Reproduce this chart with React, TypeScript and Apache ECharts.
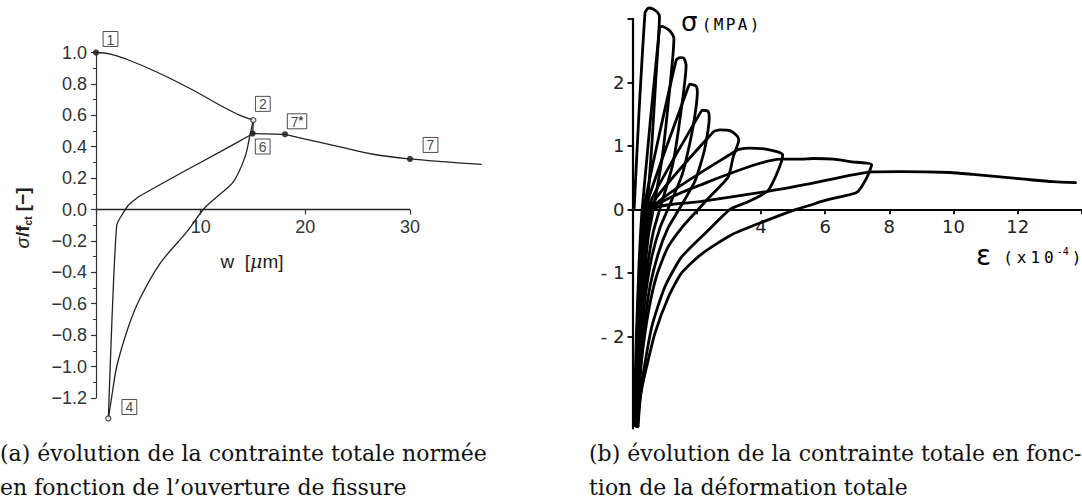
import React, { useEffect, useRef } from "react";
import * as echarts from "echarts";

// ---------- (a) normalised stress vs crack opening ----------
// points: [w (µm), sigma/fct]
const softeningCurve = [[0, 1.0], [1.4, 0.99], [2.93, 0.957], [5.8, 0.876], [8.98, 0.771], [12.16, 0.653], [13.76, 0.6], [15.03, 0.569]];
const dropTo6 = [[15.03, 0.569], [14.97, 0.484]];
const plateau = [[14.97, 0.484], [18.06, 0.479]];
const tailCurve = [[18.06, 0.479], [20.76, 0.437], [23.95, 0.389], [26.49, 0.352], [30.0, 0.322], [33.5, 0.303], [36.85, 0.287]];
const reloadA = [[1.18, -1.331], [1.98, -0.1], [3.09, 0.027], [4.04, 0.08], [8.03, 0.229], [11.85, 0.367], [14.71, 0.473], [14.97, 0.484]];
const reloadB = [[1.18, -1.331], [1.5, -1.194], [1.98, -1.0], [3.09, -0.748], [4.2, -0.567], [6.11, -0.344], [8.67, -0.143], [10.25, 0.0], [11.53, 0.08], [13.12, 0.176], [14.24, 0.335], [14.7, 0.47], [15.03, 0.569]];
const wAxisLine = [[0, 0], [30, 0]];
const keyNames = ["1", "2", "6", "7*", "7", "4"];
const keyW = [0, 15.03, 14.97, 18.06, 30, 1.18];
const keyS = [1.0, 0.569, 0.484, 0.479, 0.322, -1.331];
const wTicks = [0, 10, 20, 30];
const wTickLabels = [10, 20, 30];

// ---------- (b) cyclic stress-strain (eps x1e-4, sigma MPa) ----------
const loop1 = [[0.05, 0], [0.2, 1.5], [0.39, 3.09], [0.45, 3.15], [0.52, 3.17], [0.65, 3.15], [0.78, 3.1], [0.84, 3.04], [0.72, 2.0], [0.6, 1.0], [0.45, 0], [0.35, -0.5], [0.25, -1.2], [0.18, -2.0], [0.1, -2.8], [0.05, -3.35]];
const loop2 = [[0.05, -3.35], [0.12, -2.0], [0.2, -0.9], [0.3, 0], [0.84, 2.85], [0.91, 2.88], [1.12, 2.83], [1.25, 2.75], [1.29, 2.69], [1.12, 1.7], [0.92, 0.8], [0.65, 0], [0.5, -0.4], [0.38, -1.0], [0.28, -1.7], [0.2, -2.4], [0.1, -3.1], [0.06, -3.4]];
const loop3 = [[0.06, -3.4], [0.14, -2.0], [0.22, -0.9], [0.35, 0], [1.36, 2.35], [1.48, 2.39], [1.6, 2.38], [1.67, 2.27], [1.5, 1.5], [1.25, 0.7], [0.85, 0], [0.65, -0.35], [0.48, -0.85], [0.35, -1.45], [0.25, -2.1], [0.15, -2.8], [0.08, -3.4]];
const loop4 = [[0.08, -3.4], [0.16, -2.0], [0.26, -0.9], [0.4, 0], [1.74, 1.93], [1.79, 1.97], [1.98, 1.94], [2.02, 1.85], [1.85, 1.2], [1.55, 0.55], [1.1, 0], [0.85, -0.3], [0.6, -0.75], [0.42, -1.3], [0.3, -1.9], [0.2, -2.6], [0.1, -3.4]];
const loop5 = [[0.1, -3.4], [0.18, -2.0], [0.28, -0.9], [0.45, 0], [2.1, 1.51], [2.19, 1.56], [2.36, 1.54], [2.39, 1.43], [2.25, 0.95], [1.95, 0.45], [1.45, 0], [1.1, -0.3], [0.8, -0.7], [0.55, -1.2], [0.38, -1.8], [0.25, -2.5], [0.12, -3.4]];
const loop6 = [[0.12, -3.4], [0.2, -2.0], [0.3, -0.9], [0.5, 0], [2.52, 1.22], [2.72, 1.25], [3.04, 1.24], [3.25, 1.16], [3.31, 1.09], [3.14, 0.83], [2.98, 0.51], [2.41, 0.2], [2.05, 0], [1.6, -0.25], [1.1, -0.6], [0.75, -1.05], [0.5, -1.6], [0.3, -2.3], [0.18, -3.0], [0.13, -3.42]];
const loop7 = [[0.13, -3.42], [0.22, -2.0], [0.32, -0.9], [0.55, 0], [3.25, 0.93], [3.5, 0.96], [3.66, 0.965], [4.19, 0.945], [4.55, 0.9], [4.68, 0.855], [4.23, 0.3], [3.6, 0.12], [3.04, 0], [2.36, -0.33], [1.53, -0.75], [1.01, -1.22], [0.6, -1.85], [0.29, -2.74], [0.17, -3.42]];
const loop8 = [[0.17, -3.42], [0.25, -2.0], [0.35, -0.9], [0.6, 0], [2.1, 0.38], [4.6, 0.79], [5.22, 0.79], [5.64, 0.8], [6.26, 0.79], [6.78, 0.75], [7.45, 0.7], [7.3, 0.5], [7.0, 0.27], [6.5, 0.2], [6.0, 0.14], [5.5, 0.06], [5.1, 0], [4.1, -0.19], [3.09, -0.4], [2.16, -0.7], [1.53, -1.0], [1.12, -1.38], [0.7, -1.95], [0.44, -2.48], [0.28, -2.85], [0.18, -3.2], [0.15, -3.42]];
const loop9 = [[0.15, -3.42], [0.25, -2.0], [0.38, -0.9], [0.65, 0], [2.1, 0.12], [4.18, 0.28], [5.5, 0.4], [7.45, 0.59], [8.33, 0.595], [9.9, 0.58], [10.6, 0.55], [11.45, 0.51], [12.3, 0.47], [13.1, 0.435], [13.8, 0.42]];
const loops = [loop1, loop2, loop3, loop4, loop5, loop6, loop7, loop8, loop9];
const epsTickLabels = [4, 6, 8, 10, 12];
const sigmaTicks = [-2, -1, 0, 1, 2, 3];
const sigmaTickLabels = [-2, -1, 0, 1, 2];

const SANS_A = "'Liberation Sans', Arial, sans-serif";
const SANS_B = "'DejaVu Sans', sans-serif";
const MONO = "'DejaVu Sans Mono', monospace";
const SERIF = "'DejaVu Serif', serif";

// layout of the two panels (pixels)
const A_XMAX = 37;
const A_PX_PER_UNIT = 10.467;
const GA = { left: 96, top: 52.5, width: A_XMAX * A_PX_PER_UNIT, height: 345.4 };
const GB = { left: 632.5, top: 18.8, width: 449.4, height: 409.6 };
const A_YMIN = -1.2, A_YMAX = 1.0;
const B_YMIN = -3.45, B_YMAX = 3;
const zeroOffsetA = -(GA.height * (0 - A_YMIN) / (A_YMAX - A_YMIN));
const zeroOffsetB = -(GB.height * (0 - B_YMIN) / (B_YMAX - B_YMIN));

const labelOffsets: Record<string, number[]> = {
  "1": [14.5, -13.5],
  "2": [9.5, -16.3],
  "6": [10, 13],
  "7*": [12, -13],
  "7": [20.5, -14],
  "4": [21, -11.5],
};
const openMarker: Record<string, boolean> = { "2": true, "4": true };

function buildOption() {
  const thinLine = { color: "#222", width: 1.3 };
  const leftLine = (data: number[][], smooth: number | boolean, lw = 1.3) => ({
    type: "line",
    xAxisIndex: 0,
    yAxisIndex: 0,
    data,
    smooth,
    showSymbol: false,
    clip: false,
    lineStyle: { ...thinLine, width: lw },
    silent: true,
  });

  const rightSeries = loops.map((d) => ({
    type: "line",
    xAxisIndex: 1,
    yAxisIndex: 1,
    data: d,
    smooth: 0.2,
    showSymbol: false,
    clip: false,
    silent: true,
    lineStyle: { color: "#000", width: 2.8, cap: "round", join: "round" },
  }));

  const keyData = keyNames.map((n, i) => ({
    name: n,
    value: [keyW[i], keyS[i]],
    itemStyle: {
      color: openMarker[n] ? "#fff" : "#222",
      borderColor: "#222",
      borderWidth: 1.2,
    },
    label: { offset: labelOffsets[n] },
  }));

  return {
    animation: false,
    backgroundColor: "#fff",
    grid: [
      { ...GA, containLabel: false, outerBoundsMode: "none" },
      { ...GB, containLabel: false, outerBoundsMode: "none" },
    ],
    xAxis: [
      {
        type: "value",
        gridIndex: 0,
        position: "bottom",
        offset: zeroOffsetA,
        min: 0,
        max: A_XMAX,
        interval: 10,
        axisLine: { show: false, onZero: false },
        axisTick: { show: true, length: 5, customValues: wTicks, lineStyle: { color: "#333", width: 1.2 } },
        axisLabel: {
          show: true,
          margin: 8,
          fontFamily: SANS_A,
          fontSize: 18,
          color: "#333",
          customValues: wTickLabels,
          formatter: (v: number) => (wTickLabels.indexOf(v) >= 0 ? String(v) : ""),
        },
        splitLine: { show: false },
      },
      {
        type: "value",
        gridIndex: 1,
        position: "bottom",
        offset: zeroOffsetB,
        min: 0,
        max: 14,
        interval: 2,
        axisLine: { show: true, onZero: false, lineStyle: { color: "#000", width: 2.2 } },
        axisTick: { show: true, length: 5, lineStyle: { color: "#000", width: 1.8 } },
        axisLabel: {
          show: true,
          margin: 8,
          fontFamily: SANS_B,
          fontSize: 18,
          color: "#222",
          formatter: (v: number) => (epsTickLabels.indexOf(v) >= 0 ? String(v) : ""),
        },
        splitLine: { show: false },
      },
    ],
    yAxis: [
      {
        type: "value",
        gridIndex: 0,
        min: A_YMIN,
        max: A_YMAX,
        interval: 0.2,
        axisLine: { show: true, onZero: false, lineStyle: { color: "#333", width: 1.2 } },
        axisTick: { show: true, length: 5, lineStyle: { color: "#333", width: 1.2 } },
        minorTick: { show: true, splitNumber: 2, length: 3, lineStyle: { color: "#333", width: 1 } },
        axisLabel: {
          show: true,
          margin: 9,
          fontFamily: SANS_A,
          fontSize: 18,
          color: "#333",
          formatter: (v: number) => {
            const s = (Math.round(v * 10) / 10).toFixed(1);
            return s === "-0.0" ? "0.0" : s.replace("-", "\u2212");
          },
        },
        splitLine: { show: false },
      },
      {
        type: "value",
        gridIndex: 1,
        min: B_YMIN,
        max: B_YMAX,
        axisLine: { show: true, onZero: false, lineStyle: { color: "#000", width: 2.2 } },
        axisTick: { show: true, length: 5, customValues: sigmaTicks, lineStyle: { color: "#000", width: 1.8 } },
        axisLabel: {
          show: true,
          margin: 8,
          fontFamily: SANS_B,
          fontSize: 18,
          color: "#222",
          customValues: sigmaTickLabels,
          formatter: (v: number) => {
            if (sigmaTickLabels.indexOf(v) < 0) return "";
            return v < 0 ? "- " + String(-v) : String(v);
          },
        },
        splitLine: { show: false },
      },
    ],
    series: [
      leftLine(wAxisLine, false, 1.3),
      leftLine(softeningCurve, 0.4),
      leftLine(dropTo6, false),
      leftLine(plateau, false),
      leftLine(tailCurve, 0.4),
      leftLine(reloadA, 0.15),
      leftLine(reloadB, 0.3),
      {
        type: "scatter",
        xAxisIndex: 0,
        yAxisIndex: 0,
        clip: false,
        symbol: "circle",
        symbolSize: 5,
        silent: true,
        data: keyData,
        z: 5,
        label: {
          show: true,
          position: "inside",
          formatter: (p: any) => (p.name === "7*" ? "7{s|*}" : p.name),
          fontFamily: SANS_A,
          fontSize: 14,
          lineHeight: 14,
          color: "#111",
          textBorderWidth: 0,
          borderColor: "#222",
          borderWidth: 1,
          padding: [1, 3.5, 0, 3.5],
          rich: { s: { fontSize: 12, fontWeight: "bold", verticalAlign: "top", lineHeight: 14, color: "#111", fontFamily: SANS_A } },
        },
      },
      ...rightSeries,
    ],
    graphic: [
      {
        type: "text",
        x: 22,
        y: 218,
        rotation: Math.PI / 2,
        style: {
          text: "{i|\u03c3}{n|/f}{sub|ct}{n| [\u2212]}",
          align: "center",
          verticalAlign: "middle",
          fill: "#222",
          rich: {
            i: { fontFamily: SANS_A, fontSize: 19, fontStyle: "italic", fill: "#222", lineHeight: 22 },
            n: { fontFamily: SANS_A, fontSize: 19, fontWeight: "bold", fill: "#222", lineHeight: 22 },
            sub: { fontFamily: SANS_A, fontSize: 10, fontWeight: "bold", fill: "#222", lineHeight: 22, verticalAlign: "bottom" },
          },
        },
      },
      {
        type: "text",
        x: 252,
        y: 261,
        style: {
          text: "{n|w  [}{i|\u03bc}{n|m]}",
          align: "center",
          verticalAlign: "middle",
          rich: {
            n: { fontFamily: SANS_A, fontSize: 19, fill: "#222" },
            i: { fontFamily: SERIF, fontSize: 19, fontStyle: "italic", fill: "#222" },
          },
        },
      },
      {
        type: "text",
        x: 681,
        y: 22,
        style: {
          text: "{b|\u03c3}{s|(}{s|M}{s|P}{s|A}{s|)}",
          align: "left",
          verticalAlign: "middle",
          rich: {
            b: { fontFamily: SANS_B, fontSize: 26, fill: "#000", padding: [0, 3, 0, 0] },
            s: { fontFamily: MONO, fontSize: 16, fill: "#000", padding: [4, 1.2, 0, 1.2] },
          },
        },
      },
      {
        type: "text",
        x: 976,
        y: 255,
        style: {
          text: "{b|\u025b}{s|(}{s|x}{s|1}{s|0}{p|-4}{s|)}",
          align: "left",
          verticalAlign: "middle",
          rich: {
            b: { fontFamily: SANS_B, fontSize: 28, fill: "#000", padding: [0, 10, 0, 0] },
            s: { fontFamily: MONO, fontSize: 16, fill: "#000", padding: [4, 2, 0, 2] },
            p: { fontFamily: MONO, fontSize: 10, fill: "#000", padding: [0, 1, 7, 1] },
          },
        },
      },
      {
        type: "text",
        x: 0,
        y: 453,
        style: { text: "(a) \u00e9volution de la contrainte totale norm\u00e9e", font: `22px ${SERIF}`, fill: "#111", verticalAlign: "middle" },
      },
      {
        type: "text",
        x: 0,
        y: 487,
        style: { text: "en fonction de l\u2019ouverture de fissure", font: `22px ${SERIF}`, fill: "#111", verticalAlign: "middle" },
      },
      {
        type: "text",
        x: 589,
        y: 453,
        style: { text: "(b) \u00e9volution de la contrainte totale en fonc-", font: `22px ${SERIF}`, fill: "#111", verticalAlign: "middle" },
      },
      {
        type: "text",
        x: 589,
        y: 487,
        style: { text: "tion de la d\u00e9formation totale", font: `22px ${SERIF}`, fill: "#111", verticalAlign: "middle" },
      },
    ],
  };
}

export default function App() {
  const ref = useRef<HTMLDivElement>(null);
  useEffect(() => {
    if (!ref.current) return;
    const chart = echarts.init(ref.current, null, { renderer: "svg" });
    chart.setOption(buildOption() as any);
    return () => chart.dispose();
  }, []);
  return (
    <div
      ref={ref}
      style={{ position: "absolute", left: 0, top: 0, width: 1082, height: 503, background: "#fff", overflow: "hidden" }}
    />
  );
}
